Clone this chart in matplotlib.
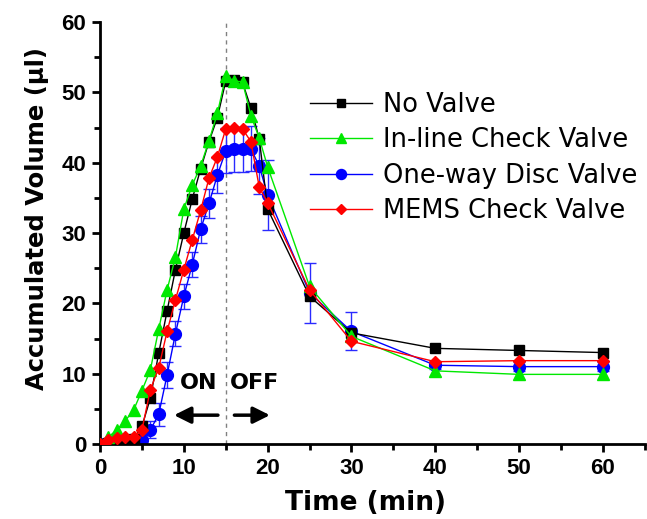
import matplotlib.pyplot as plt
from matplotlib.ticker import MultipleLocator

plt.rcParams['font.family'] = ['DejaVu Sans']

tiempo = list(range(0, 21)) + [25, 30, 40, 50, 60]

no_valve = [0, 0.2, 0.3, 0.5, 0.7, 2.5, 6.5, 12.9, 18.9, 24.8, 30.0, 34.8, 39.1,
            43.0, 46.4, 51.6, 51.8, 51.4, 47.8, 43.4, 33.4, 21.0, 15.8, 13.6, 13.3, 13.0]
inline = [0, 1.0, 2.0, 3.3, 4.8, 7.6, 10.5, 16.3, 21.9, 26.6, 33.4, 36.8, 39.5,
          43.1, 47.0, 52.3, 51.6, 51.5, 46.7, 43.5, 39.4, 22.4, 15.3, 10.4, 9.9, 9.9]
disc = [0, 0, 0, 0.1, 0.2, 0.6, 2.0, 4.2, 9.8, 15.7, 21.0, 25.5, 30.5,
        34.2, 38.2, 41.7, 41.9, 41.9, 42.0, 39.5, 35.4, 21.5, 16.0, 11.2, 11.0, 11.0]
disc_err = [0, 0.3, 0.3, 0.4, 0.5, 0.8, 1.2, 1.6, 1.8, 1.8, 1.8, 1.8, 1.9,
            2.0, 2.5, 3.2, 3.2, 3.2, 3.2, 4.0, 5.0, 4.3, 2.7, 0.6, 0.6, 0.6]
mems = [0, 0.6, 0.8, 1.0, 1.0, 2.0, 7.7, 10.8, 16.0, 20.5, 24.8, 29.0, 33.2,
        37.8, 40.8, 44.8, 45.0, 44.8, 43.0, 36.5, 34.3, 21.9, 14.6, 11.7, 11.85, 11.85]

fig = plt.figure(figsize=(6.47, 5.19), dpi=100)
ax = fig.add_axes([0.1546, 0.1445, 0.842, 0.8131])

ax.axvline(15, color='gray', ls=(0, (3, 3)), lw=1, zorder=0)

ax.errorbar(tiempo, disc, yerr=disc_err, fmt='none', ecolor='#2a2aff', elinewidth=1,
            capsize=4, capthick=1, zorder=1)
ax.plot(tiempo, no_valve, color='black', lw=1, marker='s', ms=7.5, label='No Valve', zorder=3)
ax.plot(tiempo, inline, color='#00e800', lw=1, marker='^', ms=9, label='In-line Check Valve', zorder=4)
ax.plot(tiempo, disc, color='blue', lw=1, marker='o', ms=8.5, label='One-way Disc Valve', zorder=2)
ax.plot(tiempo, mems, color='red', lw=1, marker='D', ms=6, label='MEMS Check Valve', zorder=5)

# flechas de encendido / apagado
ax.text(11.8, 8.7, 'ON', fontsize=16, fontweight='bold', ha='center', va='center')
ax.text(18.4, 8.7, 'OFF', fontsize=16, fontweight='bold', ha='center', va='center')
ax.annotate('', xy=(8.5, 4.1), xytext=(14.4, 4.1),
            arrowprops=dict(arrowstyle='-|>,head_length=1.0,head_width=0.5', lw=2.5, color='black'))
ax.annotate('', xy=(20.6, 4.1), xytext=(15.7, 4.1),
            arrowprops=dict(arrowstyle='-|>,head_length=1.0,head_width=0.5', lw=2.5, color='black'))

ax.set_xlim(0, 65)
ax.set_ylim(0, 60)
ax.xaxis.set_major_locator(MultipleLocator(10))
ax.xaxis.set_minor_locator(MultipleLocator(5))
ax.yaxis.set_major_locator(MultipleLocator(10))
ax.yaxis.set_minor_locator(MultipleLocator(5))
ax.spines['top'].set_visible(False)
ax.spines['right'].set_visible(False)
for s in ['left', 'bottom']:
    ax.spines[s].set_linewidth(2)
ax.tick_params(which='major', direction='out', length=6, width=2, pad=4)
ax.tick_params(which='minor', direction='out', length=4, width=2)
for lbl in ax.get_xticklabels() + ax.get_yticklabels():
    lbl.set_fontfamily(['Liberation Sans', 'DejaVu Sans'])
    lbl.set_fontweight('bold')
    lbl.set_fontsize(16)

ax.set_xlabel('Time (min)', fontsize=19, fontweight='bold')
ax.set_ylabel('Accumulated Volume (\u03bcl)', fontsize=17.5, fontweight='bold')
ax.xaxis.set_label_coords(0.488, -0.108)
ax.yaxis.set_label_coords(-0.094, 0.535)

ax.legend(loc='upper left', bbox_to_anchor=(0.385, 0.835), frameon=False, fontsize=18.5,
          borderpad=0, borderaxespad=0, handlelength=2.41, handletextpad=0.43,
          labelspacing=0.37, markerscale=0.85)

plt.savefig('out.png', dpi=100)
